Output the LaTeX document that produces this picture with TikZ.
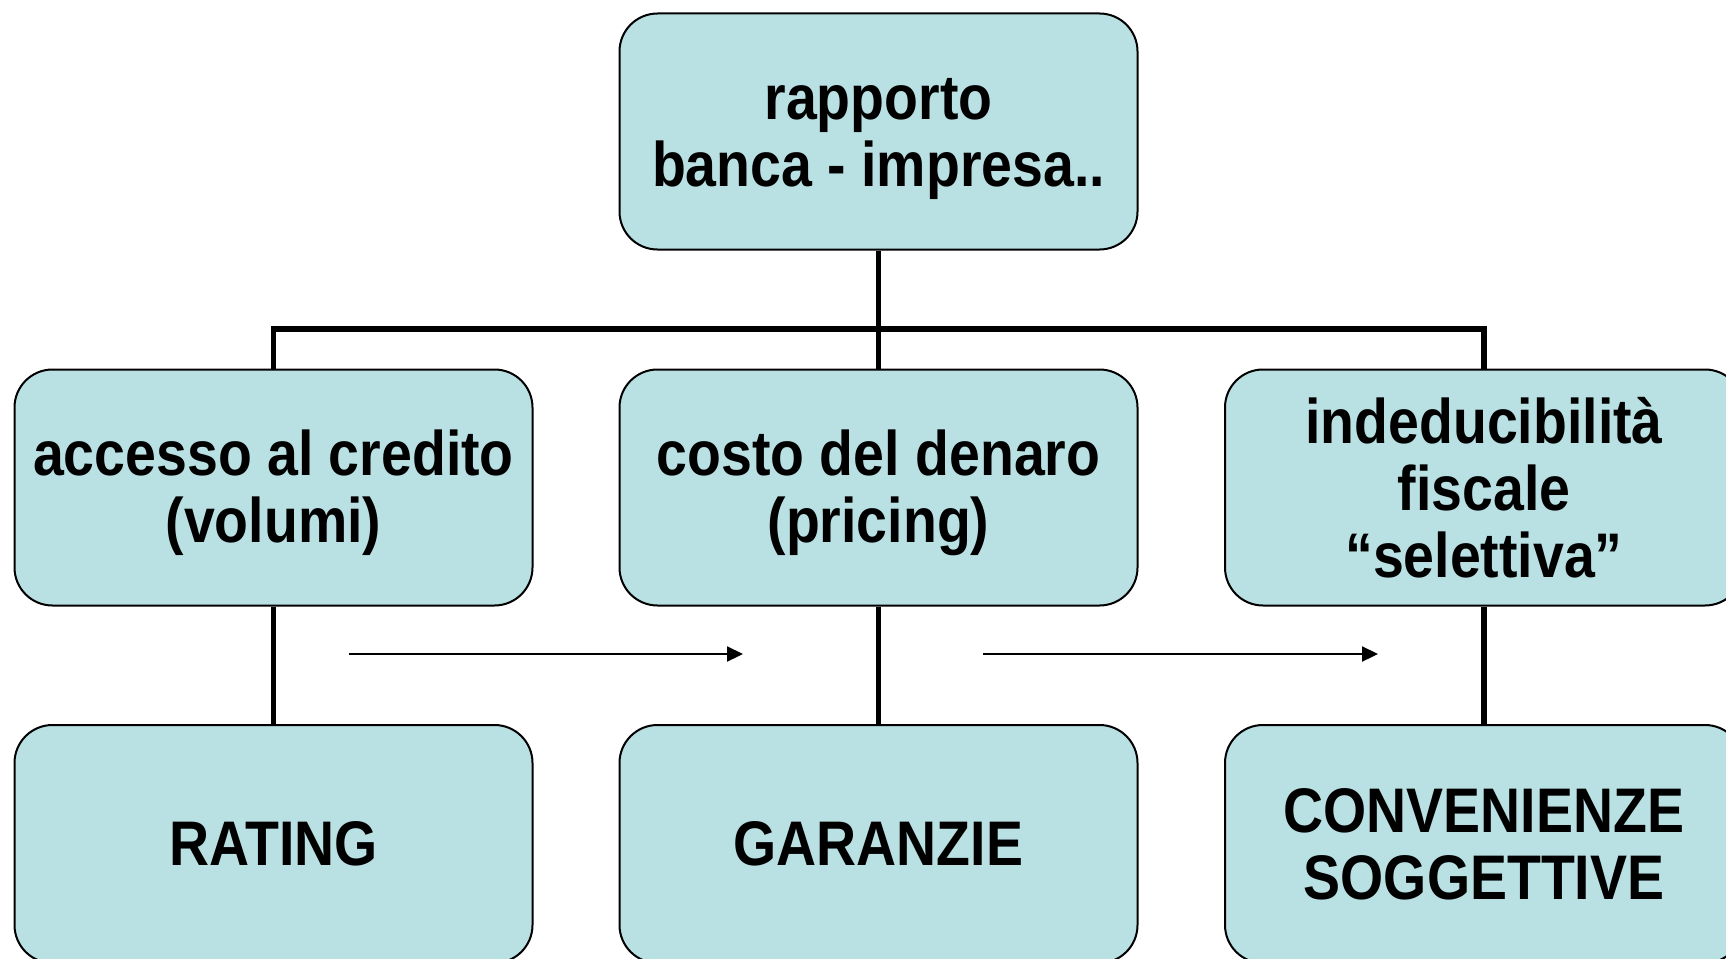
\documentclass[tikz,border=0pt]{standalone}
\usepackage{fontspec}
\setmainfont[FakeStretch=0.88]{Liberation Sans}
\usetikzlibrary{arrows.meta}
\definecolor{boxfill}{RGB}{185,224,227}
\newcommand{\lowtxt}[1]{\raisebox{-8pt}[\height][\depth]{\begin{tabular}{@{}c@{}}#1\end{tabular}}}
\tikzset{
  box/.style={draw=black, line width=2pt, fill=boxfill, rounded corners=38pt,
    minimum width=518pt, minimum height=236pt, inner sep=0pt, align=center,
    font=\fontsize{63}{67}\selectfont\bfseries},
  conn/.style={draw=black, line width=5.2pt},
  flow/.style={draw=black, line width=2.2pt, -{Triangle[length=16pt,width=15pt]}}
}
\begin{document}
\begin{tikzpicture}[x=1pt,y=-1pt]
\useasboundingbox (0,0) rectangle (1726,958);
\clip (0,0) rectangle (1726,958);
\coordinate (bar) at (0,329);
\node[box] (top) at (878.5,131.5) {\lowtxt{rapporto\\banca - impresa..}};
\node[box] (m1) at (273.5,487.5) {\lowtxt{accesso al credito\\(volumi)}};
\node[box] (m2) at (878.5,487.5) {\lowtxt{costo del denaro\\(pricing)}};
\node[box] (m3) at (1484,487.5) {indeducibilità\\fiscale\\“selettiva”};
\node[box, minimum height=238pt] (b1) at (273.5,844) {RATING};
\node[box, minimum height=238pt] (b2) at (878.5,844) {GARANZIE};
\node[box, minimum height=238pt] (b3) at (1484,844) {CONVENIENZE\\SOGGETTIVE};
\draw[conn] (top.south) -- (m2.north);
\draw[conn] (m1.north) -- (m1.north |- bar) -- (m3.north |- bar) -- (m3.north);
\draw[conn] (m1.south) -- (b1.north);
\draw[conn] (m2.south) -- (b2.north);
\draw[conn] (m3.south) -- (b3.north);
\coordinate (a1s) at (349,654);
\coordinate (a1e) at (743,654);
\coordinate (a2s) at (983,654);
\coordinate (a2e) at (1378,654);
\draw[flow] (a1s) -- (a1e);
\draw[flow] (a2s) -- (a2e);
\end{tikzpicture}
\end{document}
